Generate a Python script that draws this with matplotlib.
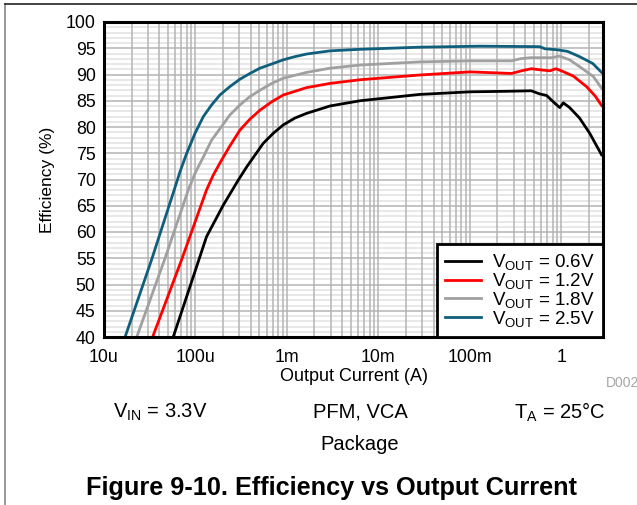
import matplotlib
matplotlib.use('Agg')
import matplotlib.pyplot as plt
from matplotlib.lines import Line2D
from matplotlib.ticker import LogLocator, MultipleLocator, FixedLocator, FixedFormatter, NullFormatter

plt.rcParams['font.family'] = ['Liberation Sans', 'DejaVu Sans']
plt.rcParams['mathtext.fontset'] = 'custom'
plt.rcParams['mathtext.rm'] = 'Liberation Sans'
plt.rcParams['mathtext.it'] = 'Liberation Sans:italic'

# data (current in A, efficiency in %)
i_06 = [5.71e-5, 8.71e-5, 1.32e-4, 2.01e-4, 2.94e-4, 3.63e-4, 5.51e-4, 7.08e-4, 9.12e-4, 1.22e-3,
        1.64e-3, 2.95e-3, 6.3e-3, 0.028, 0.1, 0.25, 0.468, 0.58, 0.69, 0.85, 0.96, 1.05, 1.23,
        1.58, 2.04, 2.75]
eff_06 = [40, 49.6, 59.1, 65.1, 69.9, 72.4, 76.9, 78.8, 80.4, 81.7,
          82.6, 84.0, 85.0, 86.2, 86.7, 86.8, 86.9, 86.3, 86.0, 84.5, 83.7, 84.6, 83.7,
          81.7, 78.8, 74.7]

i_12 = [3.40e-5, 7.05e-5, 1.32e-4, 1.57e-4, 1.93e-4, 2.38e-4, 3.06e-4, 3.94e-4, 5.07e-4, 6.81e-4,
        9.12e-4, 1.64e-3, 2.95e-3, 6.3e-3, 0.028, 0.1, 0.285, 0.367, 0.468, 0.58, 0.75, 0.87,
        1.0, 1.35, 1.88, 2.34, 2.75]
eff_12 = [40, 54.7, 68.0, 70.9, 73.7, 76.4, 79.4, 81.5, 83.2, 84.8,
          86.1, 87.5, 88.3, 89.0, 89.9, 90.5, 90.2, 90.7, 91.1, 90.9, 90.7, 91.1,
          90.7, 89.7, 87.7, 85.9, 84.1]

i_18 = [2.28e-5, 4.65e-5, 8.34e-5, 9.89e-5, 1.22e-4, 1.50e-4, 1.93e-4, 2.38e-4, 3.06e-4, 3.94e-4,
        5.07e-4, 6.81e-4, 9.12e-4, 1.64e-3, 2.95e-3, 6.3e-3, 0.028, 0.1, 0.285, 0.355, 0.457,
        0.78, 0.955, 1.23, 1.58, 2.24, 2.75]
eff_18 = [40, 55.0, 68.0, 71.2, 74.3, 77.5, 80.1, 82.3, 84.2, 85.8,
          87.0, 88.3, 89.3, 90.4, 91.2, 91.8, 92.4, 92.6, 92.6, 93.0, 93.2,
          93.2, 93.5, 92.8, 91.5, 89.6, 87.4]

i_25 = [1.70e-5, 3.31e-5, 5.75e-5, 6.78e-5, 8.02e-5, 9.89e-5, 1.22e-4, 1.50e-4, 1.85e-4, 2.38e-4,
        3.06e-4, 3.94e-4, 5.07e-4, 6.81e-4, 9.12e-4, 1.22e-3, 1.64e-3, 2.95e-3, 6.3e-3, 0.028,
        0.13, 0.58, 0.66, 0.78, 0.91, 1.17, 1.58, 2.2, 2.75]
eff_25 = [40, 54.7, 67.6, 71.5, 75.0, 78.8, 82.0, 84.2, 86.1, 87.7,
          89.1, 90.2, 91.2, 92.0, 92.8, 93.4, 93.9, 94.5, 94.8, 95.2,
          95.4, 95.3, 94.9, 94.8, 94.7, 94.4, 93.4, 92.1, 90.4]

labels = [r'V$_{\mathrm{OUT}}$ = 0.6V', r'V$_{\mathrm{OUT}}$ = 1.2V',
          r'V$_{\mathrm{OUT}}$ = 1.8V', r'V$_{\mathrm{OUT}}$ = 2.5V']
colors = ['#000000', '#ff0000', '#a0a0a0', '#0f5f7c']
xticks = [1e-5, 1e-4, 1e-3, 1e-2, 1e-1, 1]
xticklabels = ['10u', '100u', '1m', '10m', '100m', '1']

W, H = 637, 505
fig = plt.figure(figsize=(W / 100, H / 100), dpi=100)
ax = fig.add_axes([104 / W, 1 - 337 / H, (603 - 104) / W, (337 - 22) / H])

for x, y, c, lab in zip([i_06, i_12, i_18, i_25], [eff_06, eff_12, eff_18, eff_25], colors, labels):
    ax.plot(x, y, color=c, lw=2, label=lab, solid_joinstyle='round', zorder=3)

ax.set_xscale('log')
ax.set_xlim(1e-5, 2.85)
ax.set_ylim(40, 100)
ax.xaxis.set_major_locator(FixedLocator(xticks))
ax.xaxis.set_major_formatter(FixedFormatter(xticklabels))
ax.xaxis.set_minor_locator(LogLocator(base=10, subs=range(2, 10), numticks=20))
ax.xaxis.set_minor_formatter(NullFormatter())
ax.yaxis.set_major_locator(MultipleLocator(5))
ax.yaxis.set_minor_locator(MultipleLocator(1))

ax.grid(which='major', axis='both', color='#b4b4b4', lw=1.1)
ax.grid(which='minor', axis='x', color='#b4b4b4', lw=1.1)
ax.grid(which='minor', axis='y', color='#e2e2e2', lw=1.1)
ax.set_axisbelow(True)
# vertical grid lines sit on top of the light horizontal ones
ax.yaxis.set_zorder(0.3)
ax.xaxis.set_zorder(0.6)

ax.tick_params(which='both', length=0, labelsize=12.8)
ax.tick_params(axis='x', pad=9)
ax.tick_params(axis='y', pad=6)
for s in ax.spines.values():
    s.set_linewidth(2.2)
    s.set_zorder(4)

ax.set_xlabel('Output Current (A)', fontsize=13, labelpad=1)
ax.set_ylabel('Efficiency (%)', fontsize=12.5, labelpad=8)

leg = ax.legend(loc='lower right', fontsize=13.5, frameon=True, fancybox=False,
                borderaxespad=0, handlelength=1.9, handletextpad=0.6,
                labelspacing=-0.07, borderpad=0.45)
leg.get_frame().set_edgecolor('black')
leg.get_frame().set_linewidth(2)
leg.get_frame().set_alpha(1)
leg.set_zorder(5)

# notes under the chart
fig.text(606 / W, 1 - 383 / H, 'D002', fontsize=10, color='#a6a6a6', ha='left', va='center')
fig.text(160 / W, 1 - 412 / H, r'V$_{\mathrm{IN}}$ = 3.3V', fontsize=14.5, ha='center', va='center')
fig.text(360 / W, 1 - 412 / H, 'PFM, VCA', fontsize=14.5, ha='center', va='center')
fig.text(560 / W, 1 - 412 / H, r'T$_{\mathrm{A}}$ = 25°C', fontsize=14.5, ha='center', va='center')
fig.text(360 / W, 1 - 444 / H, 'Package', fontsize=14.5, ha='center', va='center')
fig.text(331 / W, 1 - 488 / H, 'Figure 9-10. Efficiency vs Output Current', fontsize=18.2,
         fontweight='bold', ha='center', va='center')

# page border lines
fig.add_artist(Line2D([5 / W, 5 / W], [0, 1 - 4 / H], transform=fig.transFigure, color='#888888', lw=1.2))
fig.add_artist(Line2D([5 / W, 1], [1 - 4 / H, 1 - 4 / H], transform=fig.transFigure, color='#222222', lw=1.2))

fig.savefig('out.png', dpi=100)
